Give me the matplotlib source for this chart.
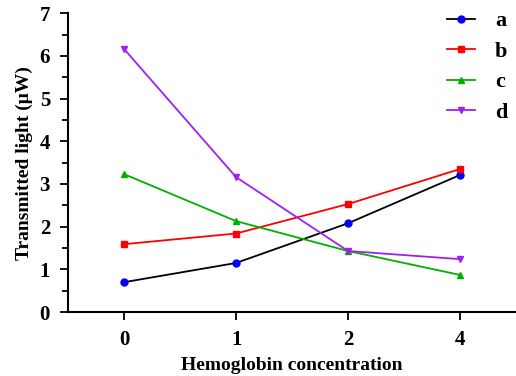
import numpy as np
import matplotlib.pyplot as plt
from matplotlib.ticker import MultipleLocator

plt.rcParams['font.family'] = ['Liberation Serif', 'DejaVu Serif']
plt.rcParams['font.weight'] = 'bold'

# data
categories = ['0', '1', '2', '4']
a = [0.70, 1.15, 2.08, 3.21]
b = [1.59, 1.84, 2.53, 3.35]
c = [3.23, 2.13, 1.43, 0.87]
d = [6.16, 3.16, 1.43, 1.24]

x = np.arange(len(categories))

fig = plt.figure(figsize=(5.16, 3.76), dpi=100)
ax = fig.add_axes([0.132, 0.170, 0.868, 0.795])

ax.plot(x, a, color='black', lw=1.3, marker='o', ms=5, mfc='blue', mec='blue', label='a')
ax.plot(x, b, color='red', lw=1.3, marker='s', ms=5, mfc='red', mec='red', label='b')
ax.plot(x, c, color='#00b000', lw=1.3, marker='^', ms=5, mfc='#00b000', mec='#00b000', label='c')
ax.plot(x, d, color='#a020f0', lw=1.3, marker='v', ms=5, mfc='#a020f0', mec='#a020f0', label='d')

ax.set_xlim(-0.5, 3.5)
ax.set_ylim(0, 7)
ax.set_xticks(x)
ax.set_xticklabels(categories)
ax.yaxis.set_major_locator(MultipleLocator(1))
ax.yaxis.set_minor_locator(MultipleLocator(0.5))

for s in ['top', 'right']:
    ax.spines[s].set_visible(False)
for s in ['left', 'bottom']:
    ax.spines[s].set_linewidth(1.5)

ax.tick_params(which='major', length=6, width=1.3, labelsize=15, pad=7)
ax.tick_params(which='minor', length=4, width=1.3)
for lab in ax.get_xticklabels() + ax.get_yticklabels():
    lab.set_fontweight('bold')

ax.set_xlabel('Hemoglobin concentration', fontsize=14, fontweight='bold', labelpad=5)
ax.set_ylabel('Transmitted light (μW)', fontsize=14, fontweight='bold', labelpad=5)

ax.legend(loc='upper right', bbox_to_anchor=(1.025, 1.075), frameon=False,
          prop={'size': 16, 'weight': 'bold'}, handlelength=1.25, handletextpad=0.9,
          labelspacing=0.45)

fig.savefig('out.png', dpi=100)
